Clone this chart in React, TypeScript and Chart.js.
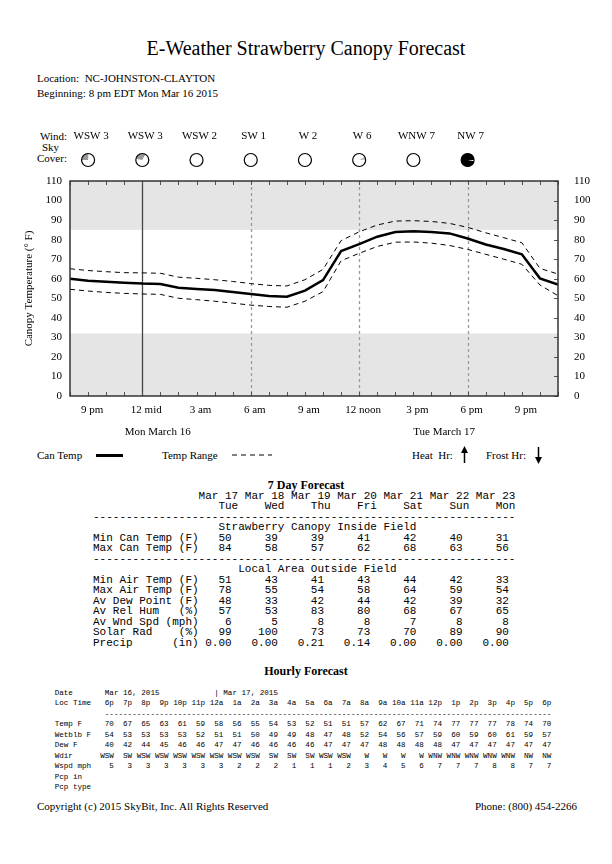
import React, { useEffect, useRef } from 'react';
import { Chart, registerables } from 'chart.js';
Chart.register(...registerables);

const SERIF = "'Liberation Serif', 'Times New Roman', serif";
const MONO = "'Liberation Mono', 'Courier New', monospace";

// ---- Chart data (hourly, 8 pm Mon Mar 16 -> 11 pm Tue Mar 17) ----
const hourNames = ['8p','9p','10p','11p','12a','1a','2a','3a','4a','5a','6a','7a','8a','9a','10a','11a','12p','1p','2p','3p','4p','5p','6p','7p','8p','9p','10p','11p'];
const canTemp = [60, 59, 58.5, 58, 57.5, 57.3, 55.4, 54.8, 54.2, 53.2, 52.2, 51.2, 50.8, 53.9, 59.3, 74.2, 77.7, 81.5, 83.9, 84.3, 83.9, 83.2, 80.6, 77.5, 75.2, 72.5, 60.2, 57];
const rangeHigh = [65.1, 64.2, 63.6, 63.1, 63, 62.8, 60.8, 60.2, 59.5, 58.6, 57.5, 56.6, 56.3, 59.5, 64.8, 79.5, 84, 87.5, 89.5, 89.7, 89.3, 88.3, 86.3, 83.5, 81, 78.4, 65.3, 62.4];
const rangeLow = [54.6, 53.7, 53, 52.5, 52.2, 52, 50, 49.3, 48.5, 47.5, 46.5, 45.8, 45.4, 48.5, 53.4, 69.2, 73, 76.5, 78.7, 78.8, 78.2, 77, 75, 72.5, 70, 67.4, 56.8, 51.3];

const xTickHours = [1, 4, 7, 10, 13, 16, 19, 22, 25];
const xTickLabels = ['9 pm', '12 mid', '3 am', '6 am', '9 am', '12 noon', '3 pm', '6 pm', '9 pm'];
const yTicks = [0, 10, 20, 30, 40, 50, 60, 70, 80, 90, 100, 110];
const dayBreakHours = [4];
const sixHourLines = [10, 16, 22];
const shadedBands = [[0, 32], [85, 110]];
const dateLabels = ['Mon March 16', 'Tue March 17'];
const dateLabelHours = [4.85, 20.7];

const windHours = [1, 4, 7, 10, 13, 16, 19, 22];
const windLabels = ['WSW 3', 'WSW 3', 'WSW 2', 'SW 1', 'W 2', 'W 6', 'WNW 7', 'NW 7'];
const skyCoverPct = [26, 30, 0, 0, 0, 8, 0, 97];
const skyStartDeg = [180, 190, 0, 0, 0, 330, 0, 10];
const skyColors = ['#999', '#999', '#999', '#999', '#999', '#bbb', '#999', '#000'];

// ---- 7 day forecast ----
const dayDates = ['Mar 17', 'Mar 18', 'Mar 19', 'Mar 20', 'Mar 21', 'Mar 22', 'Mar 23'];
const dayNames = ['Tue', 'Wed', 'Thu', 'Fri', 'Sat', 'Sun', 'Mon'];
const minCanTemp = [50, 39, 39, 41, 42, 40, 31];
const maxCanTemp = [84, 58, 57, 62, 68, 63, 56];
const minAirTemp = [51, 43, 41, 43, 44, 42, 33];
const maxAirTemp = [78, 55, 54, 58, 64, 59, 54];
const avDewPoint = [48, 33, 42, 44, 42, 39, 32];
const avRelHum = [57, 53, 83, 80, 68, 67, 65];
const avWndSpd = [6, 5, 8, 8, 7, 8, 8];
const solarRad = [99, 100, 73, 73, 70, 89, 90];
const precip = ['0.00', '0.00', '0.21', '0.14', '0.00', '0.00', '0.00'];

// ---- Hourly forecast ----
const hourCols = ['6p','7p','8p','9p','10p','11p','12a','1a','2a','3a','4a','5a','6a','7a','8a','9a','10a','11a','12p','1p','2p','3p','4p','5p','6p'];
const hourlyTemp = [70, 67, 65, 63, 61, 59, 58, 56, 55, 54, 53, 52, 51, 51, 57, 62, 67, 71, 74, 77, 77, 77, 78, 74, 70];
const hourlyWetbulb = [54, 53, 53, 53, 53, 52, 51, 51, 50, 49, 49, 48, 47, 48, 52, 54, 56, 57, 59, 60, 59, 60, 61, 59, 57];
const hourlyDew = [40, 42, 44, 45, 46, 46, 47, 47, 46, 46, 46, 46, 47, 47, 47, 48, 48, 48, 48, 47, 47, 47, 47, 47, 47];
const hourlyWdir = ['WSW','SW','WSW','WSW','WSW','WSW','WSW','WSW','WSW','SW','SW','SW','WSW','WSW','W','W','W','W','WNW','WNW','WNW','WNW','WNW','NW','NW'];
const hourlyWspd = [5, 3, 3, 3, 3, 3, 3, 2, 2, 2, 1, 1, 1, 2, 3, 4, 5, 6, 7, 7, 7, 8, 8, 7, 7];

const padS = (v: any, n: number) => String(v).padStart(n);

const sevenDayText = (() => {
  const dRow = (label: string, vals: any[]) => label.padEnd(17) + vals.map((v, i) => padS(v, i === 0 ? 4 : 7)).join('');
  return [
    ' '.repeat(15) + dayDates.map(d => padS(d, 7)).join(''),
    ' '.repeat(15) + dayNames.map(d => padS(d, 7)).join(''),
    '-'.repeat(64),
    ' '.repeat(19) + 'Strawberry Canopy Inside Field',
    dRow('Min Can Temp (F)', minCanTemp),
    dRow('Max Can Temp (F)', maxCanTemp),
    '-'.repeat(64),
    ' '.repeat(22) + 'Local Area Outside Field',
    dRow('Min Air Temp (F)', minAirTemp),
    dRow('Max Air Temp (F)', maxAirTemp),
    dRow('Av Dew Point (F)', avDewPoint),
    dRow('Av Rel Hum   (%)', avRelHum),
    dRow('Av Wnd Spd (mph)', avWndSpd),
    dRow('Solar Rad    (%)', solarRad),
    dRow('Precip      (in)', precip),
  ].join('\n');
})();

const hourlyText = (() => {
  const row = (label: string, vals: any[]) => label.padEnd(9) + vals.map(v => padS(v, 4)).join('');
  return [
    'Date'.padEnd(11) + 'Mar 16, 2015'.padEnd(24) + '| Mar 17, 2015',
    row('Loc Time', hourCols),
    ' '.repeat(11) + '-'.repeat(98),
    row('Temp F', hourlyTemp),
    row('Wetblb F', hourlyWetbulb),
    row('Dew F', hourlyDew),
    row('Wdir', hourlyWdir),
    row('Wspd mph', hourlyWspd),
    'Pcp in',
    'Pcp type',
  ].join('\n');
})();

const decor = {
  id: 'decor',
  beforeDatasetsDraw(chart: any) {
    const { ctx, chartArea: a, scales } = chart;
    const x = scales.x, y = scales.y;
    ctx.save();
    ctx.fillStyle = '#e5e5e5';
    for (const [lo, hi] of shadedBands) {
      const t = y.getPixelForValue(hi), b = y.getPixelForValue(lo);
      ctx.fillRect(a.left, t, a.right - a.left, b - t);
    }
    ctx.lineWidth = 1.3;
    ctx.strokeStyle = '#9a9a9a';
    ctx.setLineDash([3, 3]);
    for (const h of sixHourLines) {
      const px = Math.round(x.getPixelForValue(h)) + 0.5;
      ctx.beginPath(); ctx.moveTo(px, a.top); ctx.lineTo(px, a.bottom); ctx.stroke();
    }
    ctx.setLineDash([]);
    ctx.strokeStyle = '#444';
    for (const h of dayBreakHours) {
      const px = Math.round(x.getPixelForValue(h)) + 0.5;
      ctx.beginPath(); ctx.moveTo(px, a.top); ctx.lineTo(px, a.bottom); ctx.stroke();
    }
    ctx.restore();
  },
  afterDatasetsDraw(chart: any) {
    const { ctx, chartArea: a, scales } = chart;
    const x = scales.x, y = scales.y;
    ctx.save();
    ctx.strokeStyle = '#555';
    ctx.lineWidth = 1;
    for (let h = 0; h < hourNames.length; h++) {
      const px = Math.round(x.getPixelForValue(h)) + 0.5;
      ctx.beginPath();
      ctx.moveTo(px, a.top); ctx.lineTo(px, a.top + 4);
      ctx.moveTo(px, a.bottom); ctx.lineTo(px, a.bottom - 4);
      ctx.stroke();
    }
    for (const v of yTicks) {
      const py = Math.round(y.getPixelForValue(v)) + 0.5;
      ctx.beginPath(); ctx.moveTo(a.right, py); ctx.lineTo(a.right - 4, py); ctx.stroke();
    }
    ctx.strokeStyle = '#333';
    ctx.lineWidth = 1.5;
    ctx.strokeRect(a.left, a.top, a.right - a.left, a.bottom - a.top);
    ctx.restore();
  },
  afterDraw(chart: any) {
    const { ctx, scales } = chart;
    const x = scales.x;
    ctx.save();
    ctx.fillStyle = '#000';
    ctx.font = `11px ${SERIF}`;
    ctx.textAlign = 'center';
    ctx.textBaseline = 'middle';
    windHours.forEach((h, i) => {
      ctx.fillText(windLabels[i], x.getPixelForValue(h) + 3, 16);
    });
    windHours.forEach((h, i) => {
      const cx = x.getPixelForValue(h), cy = 40, r = 6.5;
      ctx.beginPath(); ctx.arc(cx, cy, r, 0, Math.PI * 2);
      ctx.fillStyle = '#fff'; ctx.fill();
      const pct = skyCoverPct[i];
      if (pct > 0) {
        const s = (skyStartDeg[i] * Math.PI) / 180;
        const e = s + (pct / 100) * Math.PI * 2;
        ctx.beginPath(); ctx.moveTo(cx, cy); ctx.arc(cx, cy, r, s, e); ctx.closePath();
        ctx.fillStyle = skyColors[i]; ctx.fill();
      }
      ctx.beginPath(); ctx.arc(cx, cy, r, 0, Math.PI * 2);
      ctx.strokeStyle = '#000'; ctx.lineWidth = 1.2; ctx.stroke();
    });
    ctx.fillStyle = '#000';
    dateLabelHours.forEach((h, i) => {
      ctx.fillText(dateLabels[i], x.getPixelForValue(h), 312);
    });
    ctx.restore();
  },
};

function T({ x, y, text, size = 11, align = 'left', bold = false, family = SERIF }: any) {
  const tx = align === 'center' ? '-50%' : align === 'right' ? '-100%' : '0';
  return (
    <div style={{ position: 'absolute', left: x, top: y, transform: `translate(${tx}, -50%)`, fontFamily: family, fontSize: size, fontWeight: bold ? 'bold' : 'normal', lineHeight: 1.1, whiteSpace: 'pre', color: '#000' }}>{text}</div>
  );
}

export default function App() {
  const ref = useRef<HTMLCanvasElement>(null);
  useEffect(() => {
    if (!ref.current) return;
    const tickFont = { family: SERIF, size: 11 };
    const chart = new Chart(ref.current, {
      type: 'line',
      data: {
        datasets: [
          { label: 'Temp Range High', data: rangeHigh.map((v, i) => ({ x: i, y: v })), borderColor: '#000', borderWidth: 1, borderDash: [5, 4], pointRadius: 0, fill: false },
          { label: 'Temp Range Low', data: rangeLow.map((v, i) => ({ x: i, y: v })), borderColor: '#000', borderWidth: 1, borderDash: [5, 4], pointRadius: 0, fill: false },
          { label: 'Can Temp', data: canTemp.map((v, i) => ({ x: i, y: v })), borderColor: '#000', borderWidth: 2.5, pointRadius: 0, fill: false },
        ],
      },
      options: {
        responsive: false,
        animation: false,
        layout: { padding: { top: 61, left: 0, right: 0, bottom: 0 } },
        plugins: { legend: { display: false }, tooltip: { enabled: false } },
        scales: {
          x: {
            type: 'linear', min: 0, max: hourNames.length - 1,
            grid: { display: false, drawTicks: false }, border: { display: false },
            afterBuildTicks: (s: any) => { s.ticks = xTickHours.map(v => ({ value: v })); },
            ticks: {
              autoSkip: false, maxRotation: 0, padding: 8, labelOffset: 4, color: '#000', font: tickFont,
              callback: (v: any) => xTickLabels[xTickHours.indexOf(v)] ?? '',
            },
            afterFit: (s: any) => { s.height = 44; },
          },
          y: {
            position: 'left', min: 0, max: 110,
            grid: { display: false, drawTicks: false }, border: { display: false },
            afterBuildTicks: (s: any) => { s.ticks = yTicks.map(v => ({ value: v })); },
            ticks: { padding: 8, color: '#000', font: tickFont },
            title: { display: true, text: 'Canopy Temperature (° F)', color: '#000', font: tickFont, padding: { top: 23, bottom: 0 } },
            afterFit: (s: any) => { s.width = 70; },
          },
          y2: {
            position: 'right', min: 0, max: 110,
            grid: { display: false, drawTicks: false }, border: { display: false },
            afterBuildTicks: (s: any) => { s.ticks = yTicks.map(v => ({ value: v })); },
            ticks: { padding: 16, color: '#000', font: tickFont },
            afterFit: (s: any) => { s.width = 54; },
          },
        },
      } as any,
      plugins: [decor],
    });
    return () => chart.destroy();
  }, []);

  return (
    <div style={{ position: 'absolute', left: 0, top: 0, width: 612, height: 864, background: '#fff', overflow: 'hidden' }}>
      <T x={306} y={48} text="E-Weather Strawberry Canopy Forecast" size={20} align="center" />
      <T x={37} y={78} text="Location:  NC-JOHNSTON-CLAYTON" />
      <T x={37} y={93} text="Beginning: 8 pm EDT Mon Mar 16 2015" />
      <T x={40} y={136} text="Wind:" />
      <T x={42} y={147} text="Sky" />
      <T x={37} y={158} text="Cover:" />
      <canvas ref={ref} width={612} height={320} style={{ position: 'absolute', left: 0, top: 120, width: 612, height: 320 }} />
      <T x={37} y={455} text="Can Temp" />
      <div style={{ position: 'absolute', left: 96, top: 454, width: 27, height: 2.5, background: '#000' }} />
      <T x={162} y={455} text="Temp Range" />
      <svg style={{ position: 'absolute', left: 232, top: 450 }} width={40} height={10}>
        <line x1={0} y1={5} x2={40} y2={5} stroke="#000" strokeWidth={1} strokeDasharray="5 4" />
      </svg>
      <T x={412} y={455} text="Heat  Hr:" />
      <svg style={{ position: 'absolute', left: 460, top: 446 }} width={9} height={18}>
        <line x1={4.5} y1={17} x2={4.5} y2={5} stroke="#000" strokeWidth={1.5} />
        <polygon points="1,7 8,7 4.5,0" fill="#000" />
      </svg>
      <T x={486} y={455} text="Frost Hr:" />
      <svg style={{ position: 'absolute', left: 534, top: 446 }} width={9} height={18}>
        <line x1={4.5} y1={1} x2={4.5} y2={13} stroke="#000" strokeWidth={1.5} />
        <polygon points="1,11 8,11 4.5,18" fill="#000" />
      </svg>
      <T x={306} y={486} text="7 Day Forecast" size={12} bold align="center" />
      <pre style={{ position: 'absolute', left: 93, top: 490.7, margin: 0, fontFamily: MONO, fontSize: 11, lineHeight: '10.5px', color: '#000' }}>{sevenDayText}</pre>
      <T x={306} y={672} text="Hourly Forecast" size={12} bold align="center" />
      <pre style={{ position: 'absolute', left: 54.7, top: 687.75, margin: 0, fontFamily: MONO, fontSize: 7.6, lineHeight: '10.5px', color: '#000' }}>{hourlyText}</pre>
      <T x={37} y={806} text="Copyright (c) 2015 SkyBit, Inc. All Rights Reserved" />
      <T x={577} y={806} text="Phone: (800) 454-2266" align="right" />
    </div>
  );
}
